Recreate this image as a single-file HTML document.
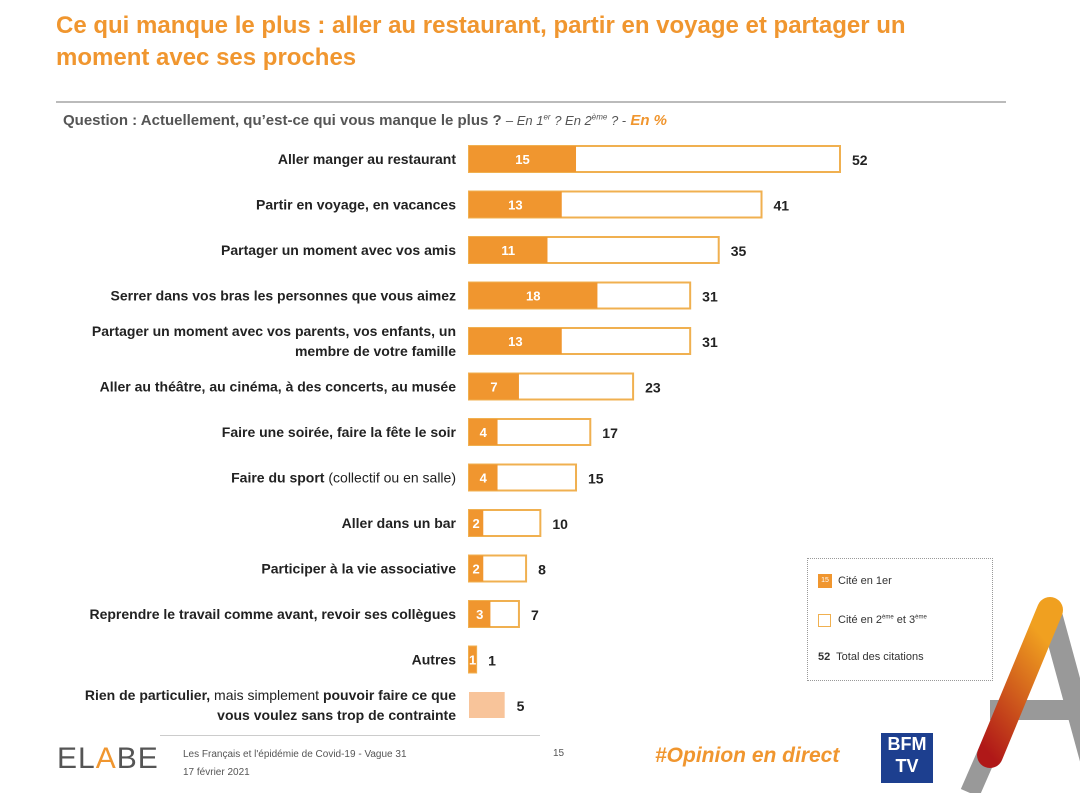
<!DOCTYPE html>
<html><head><meta charset="utf-8"><style>
body{margin:0;width:1080px;height:793px;background:#fff;font-family:"Liberation Sans",sans-serif;overflow:hidden;position:relative}
.abs{position:absolute}
h1{position:absolute;left:56px;top:10px;margin:0;font-size:24px;line-height:32px;color:#f0962f;font-weight:bold;width:900px}
</style></head><body>
<h1>Ce qui manque le plus : aller au restaurant, partir en voyage et partager un moment avec ses proches</h1>
<div class="abs" style="left:56px;top:101px;width:950px;height:2px;background:#bbb"></div>
<div class="abs" style="left:63px;top:112px;font-size:15px;color:#555;font-weight:bold">Question : Actuellement, qu’est-ce qui vous manque le plus ? <i style="font-weight:normal;font-size:13px">– En 1<sup style="font-size:8px">er</sup> ? En 2<sup style="font-size:8px">ème</sup> ? -</i> <i style="color:#f0962f">En %</i></div>
<svg class="abs" style="left:0;top:0" width="1080" height="793" id="chart"></svg>
<div class="abs" style="left:807px;top:558px;width:184px;height:121px;border:1px dotted #999;font-size:11px;color:#333">
 <div class="abs" style="left:10px;top:15px;width:14px;height:14px;background:#f0962f;color:#fff;font-size:7px;text-align:center;line-height:14px">15</div><div class="abs" style="left:30px;top:16px">Cité en 1er</div>
 <div class="abs" style="left:10px;top:55px;width:11px;height:11px;border:1.5px solid #f0b050"></div><div class="abs" style="left:30px;top:55px">Cité en 2<sup style="font-size:6px">ème</sup> et 3<sup style="font-size:6px">ème</sup></div>
 <div class="abs" style="left:10px;top:92px"><b>52</b>&nbsp; Total des citations</div>
</div>
<div class="abs" style="left:160px;top:735px;width:380px;height:1px;background:#ccc"></div>
<div class="abs" style="left:57px;top:742px;font-size:30px;color:#555;letter-spacing:1px">EL<span style="color:#f0962f">A</span>BE</div>
<div class="abs" style="left:183px;top:746px;font-size:10px;color:#555;line-height:18px">Les Français et l'épidémie de Covid-19 - Vague 31<br>17 février 2021</div>
<div class="abs" style="left:553px;top:748px;font-size:10px;color:#555">15</div>
<div class="abs" style="left:655px;top:744px;font-size:21px;color:#f0962f;font-weight:bold;font-style:italic">#Opinion en direct</div>
<div class="abs" style="left:881px;top:733px;width:52px;height:50px;background:#1d3f8f;color:#fff;font-weight:bold;font-size:18px;line-height:22px;text-align:center">BFM<br>TV</div>
<svg class="abs" style="left:950px;top:595px" width="130" height="198">
<defs><linearGradient id="g" x1="0" y1="1" x2="0.5" y2="0"><stop offset="0" stop-color="#b01818"/><stop offset="1" stop-color="#f0a020"/></linearGradient></defs>
<line x1="100" y1="15" x2="150" y2="198" stroke="#999" stroke-width="22"/>
<line x1="40" y1="115" x2="140" y2="115" stroke="#999" stroke-width="20"/>
<line x1="100" y1="15" x2="20" y2="198" stroke="#999" stroke-width="20"/>
<line x1="100" y1="15" x2="40" y2="160" stroke="url(#g)" stroke-width="26" stroke-linecap="round"/>
</svg>
<script>
// "~" marks toggle between bold and normal text segments
const labels=["Aller manger au restaurant","Partir en voyage, en vacances","Partager un moment avec vos amis","Serrer dans vos bras les personnes que vous aimez","Partager un moment avec vos parents, vos enfants, un|membre de votre famille","Aller au théâtre, au cinéma, à des concerts, au musée","Faire une soirée, faire la fête le soir","Faire du sport~ (collectif ou en salle)","Aller dans un bar","Participer à la vie associative","Reprendre le travail comme avant, revoir ses collègues","Autres","Rien de particulier,~ mais simplement ~pouvoir faire ce que|vous voulez sans trop de contrainte"];
const first=[15,13,11,18,13,7,4,4,2,2,3,1,null];
const total=[52,41,35,31,31,23,17,15,10,8,7,1,5];
const svg=document.getElementById('chart');const NS='http://www.w3.org/2000/svg';
const x0=469,k=371/52,y0=159,dy=45.5,h=26;
const X=v=>x0+v*k;const Y=i=>y0+i*dy;
function mk(t,a,p){const e=document.createElementNS(NS,t);for(const n in a)e.setAttribute(n,a[n]);(p||svg).appendChild(e);return e;}
labels.forEach((l,i)=>{const cy=Y(i);const lines=l.split('|');let bold=true;
 lines.forEach((s,j)=>{const t=mk('text',{x:456,y:cy+5+(j-(lines.length-1)/2)*20,'text-anchor':'end','font-size':14,fill:'#222'});
 
 s.split('~').forEach((seg,m)=>{if(m>0)bold=!bold;if(!seg)return;const ts=mk('tspan',{'font-weight':bold?'bold':'normal'},t);ts.textContent=seg;});});
 if(first[i]===null){const r=mk('rect',{x:x0,y:cy-h/2,width:X(total[i])-x0,height:h,fill:'#f8c49a'});}
 else{const o=mk('rect',{x:x0,y:cy-h/2,width:X(total[i])-x0,height:h,fill:'#fff',stroke:'#f0b050','stroke-width':2});
 const f=mk('rect',{x:x0,y:cy-h/2,width:X(first[i])-x0,height:h,fill:'#f0962f'});
 const ft=mk('text',{x:(x0+X(first[i]))/2,y:cy+5,'text-anchor':'middle','font-size':13,'font-weight':'bold',fill:'#fff'});ft.textContent=first[i];}
 const tt=mk('text',{x:X(total[i])+12,y:cy+6,'font-size':14,'font-weight':'bold',fill:'#222'});tt.textContent=total[i];
});
</script>
</body></html>
